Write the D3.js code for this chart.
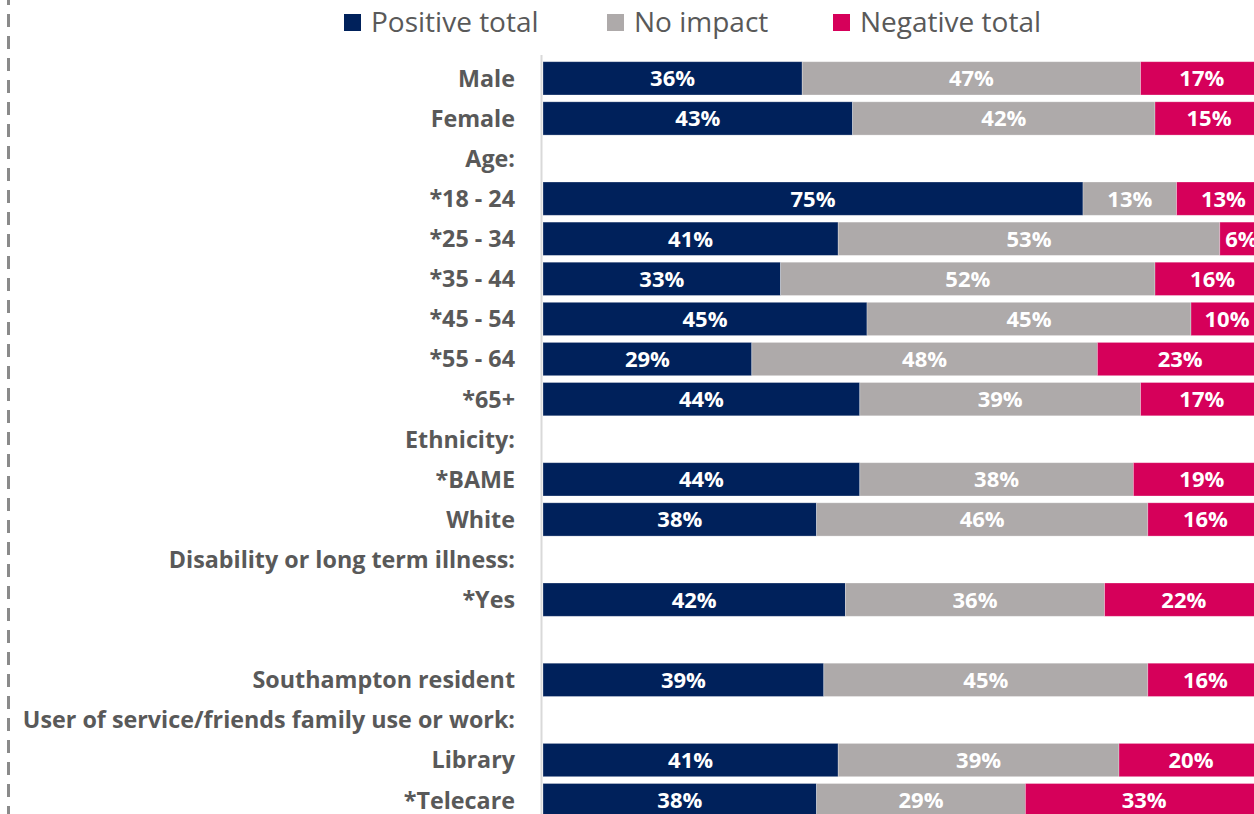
<!DOCTYPE html>
<html>
<head>
<meta charset="utf-8">
<script src="https://cdn.jsdelivr.net/npm/d3@7"></script>
<style>
  html, body { margin: 0; padding: 0; background: #fff; }
  svg { display: block; }
</style>
</head>
<body>
<svg id="chart" width="1254" height="814"></svg>
<script>
const categories = ["Male","Female","Age:","*18 - 24","*25 - 34","*35 - 44","*45 - 54","*55 - 64","*65+",
  "Ethnicity:","*BAME","White","Disability or long term illness:","*Yes","",
  "Southampton resident","User of service/friends family use or work:","Library","*Telecare"];
const positiveTotal = [36,43,null,75,41,33,45,29,44,null,44,38,null,42,null,39,null,41,38];
const noImpact      = [47,42,null,13,53,52,45,48,39,null,38,46,null,36,null,45,null,39,29];
const negativeTotal = [17,15,null,13,6,16,10,23,17,null,19,16,null,22,null,16,null,20,33];
const seriesNames = ["Positive total","No impact","Negative total"];
const seriesColors = ["#00215B","#AEAAAA","#D6005A"];

const FONT = "'Open Sans', sans-serif";
const svg = d3.select("#chart");

const x = d3.scaleLinear().domain([0, 100]).range([543, 1263]);
const y = d3.scaleBand().domain(d3.range(categories.length))
  .range([58.3, 58.3 + 19 * 40.1]).paddingInner(0.17).paddingOuter(0.085);

// dashed border at left
svg.append("line").attr("x1", 8.5).attr("x2", 8.5).attr("y1", 0).attr("y2", 814)
  .attr("stroke", "#8a8a8a").attr("stroke-width", 3).attr("stroke-dasharray", "13,9")
  .attr("stroke-dashoffset", 8);

// category axis line
svg.append("line").attr("x1", 541.5).attr("x2", 541.5).attr("y1", 55).attr("y2", 814)
  .attr("stroke", "#d9d9d9").attr("stroke-width", 2);

const rows = categories.map((c, i) => ({ i, c, vals: [positiveTotal[i], noImpact[i], negativeTotal[i]] }));
const stackData = rows.filter(r => r.vals[0] != null).map(r => ({ i: r.i, s0: r.vals[0], s1: r.vals[1], s2: r.vals[2] }));
const stacked = d3.stack().keys(["s0","s1","s2"])(stackData);

const g = svg.append("g");
stacked.forEach((layer, k) => {
  const lg = g.append("g");
  lg.selectAll("rect").data(layer).join("rect")
    .attr("x", d => x(d[0]))
    .attr("width", d => x(d[1]) - x(d[0]))
    .attr("y", d => y(d.data.i))
    .attr("height", y.bandwidth())
    .attr("fill", seriesColors[k])
    .attr("stroke", "rgba(255,255,255,0.35)").attr("stroke-width", 0.8);
  lg.selectAll("text").data(layer).join("text")
    .attr("x", d => (x(d[0]) + x(d[1])) / 2)
    .attr("y", d => y(d.data.i) + y.bandwidth() / 2)
    .attr("dy", "0.36em")
    .attr("text-anchor", "middle")
    .attr("fill", "#fff")
    .attr("font-family", FONT).attr("font-weight", "bold").attr("font-size", 22)
    .text(d => (d[1] - d[0]) + "%");
});

// category labels
svg.append("g").selectAll("text").data(rows).join("text")
  .attr("x", 515)
  .attr("y", d => y(d.i) + y.bandwidth() / 2)
  .attr("dy", "0.36em")
  .attr("text-anchor", "end")
  .attr("fill", "#595959")
  .attr("font-family", FONT).attr("font-weight", "bold").attr("font-size", 23.3)
  .text(d => d.c);

// legend
const legendX = [344, 607, 833];
const lg = svg.append("g");
seriesNames.forEach((n, k) => {
  lg.append("rect").attr("x", legendX[k]).attr("y", 14).attr("width", 17).attr("height", 17)
    .attr("fill", seriesColors[k]);
  lg.append("text").attr("x", legendX[k] + 27).attr("y", 22).attr("dy", "0.36em")
    .attr("fill", "#595959").attr("font-family", FONT).attr("font-size", 28)
    .text(n);
});
</script>
</body>
</html>
